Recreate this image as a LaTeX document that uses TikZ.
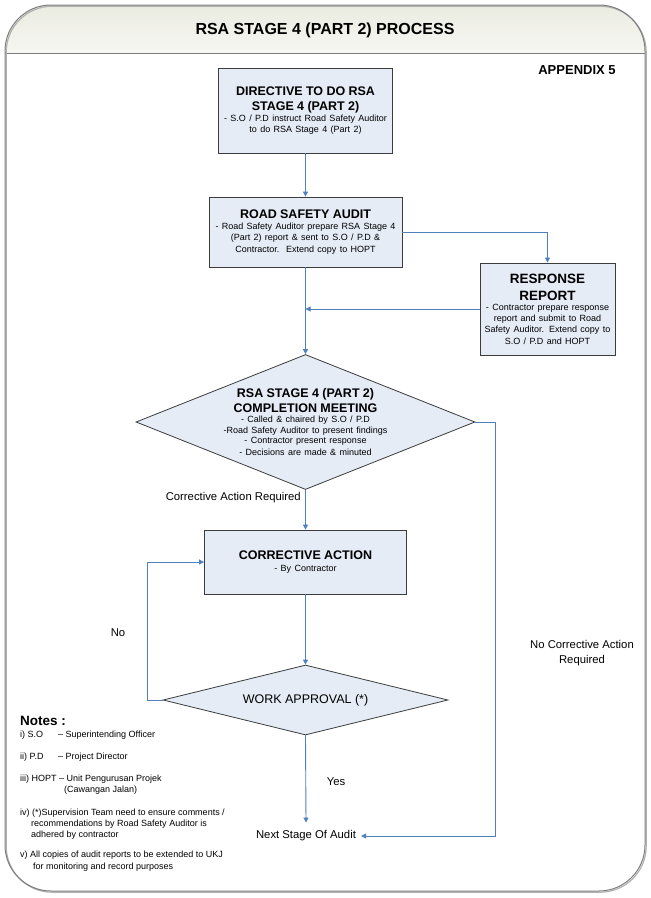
\documentclass[tikz,border=0pt]{standalone}
\usepackage{fontspec}
\setmainfont{Liberation Sans}
\usetikzlibrary{shapes.geometric,arrows.meta}
\definecolor{boxfill}{RGB}{229,236,246}
\definecolor{boxline}{RGB}{60,60,60}
\definecolor{arr}{RGB}{79,129,189}
\definecolor{framec}{RGB}{125,125,125}
\definecolor{bandtop}{RGB}{234,235,224}
\newcommand\myfs[2]{\fontsize{#1}{#2}\selectfont}
\newcommand\ttlf{\myfs{12.5}{15}\bfseries}
\newcommand\subf{\myfs{9}{10.6}\mdseries}
\begin{document}
\begin{tikzpicture}[x=1pt,y=-1pt,
  box/.style={draw=boxline, fill=boxfill, line width=0.8pt, align=center, inner sep=2pt},
  dia/.style={draw=boxline, fill=boxfill, line width=0.8pt, diamond, inner sep=0pt},
  conn/.style={draw=arr, line width=0.9pt},
  arrow/.style={conn, -{Triangle[length=5pt,width=5pt]}},
  lbl/.style={font=\myfs{11.3}{14.5}, align=center, inner sep=0pt},
  note/.style={font=\myfs{9}{11}, anchor=base west, inner sep=0pt}
]
\useasboundingbox (0,0) rectangle (651,898);
% frame
\fill[white] (0,0) rectangle (651,898);
\begin{scope}
  \clip[rounded corners=46pt] (5,5) rectangle (645,891);
  \shade[top color=bandtop, bottom color=white!60!bandtop] (5,5) rectangle (645,53);
\end{scope}
\draw[framec, line width=1pt] (5,53) -- (645,53);
\draw[framec!60, line width=1.2pt, rounded corners=46pt] (6.2,6.2) rectangle (646.2,892.2);
\draw[framec, line width=1pt, rounded corners=46pt] (5,5) rectangle (645,891);

\node[font=\myfs{16}{19}\bfseries, inner sep=0pt] (title) at (325,30) {RSA STAGE 4 (PART 2) PROCESS};
\node[font=\myfs{13}{15}\bfseries, inner sep=0pt] (app) at (577,70) {APPENDIX 5};

% boxes
\node[box, text width=170pt, minimum height=85pt] (b1) at (305.5,110.5)
  {\ttlf DIRECTIVE TO DO RSA\\STAGE 4 (PART 2)\par\subf - S.O / P.D instruct Road Safety Auditor\\to do RSA Stage 4 (Part 2)\par\vspace*{6pt}};
\node[box, text width=189pt, minimum height=70pt] (b2) at (305.5,232)
  {\ttlf ROAD SAFETY AUDIT\par\subf - Road Safety Auditor prepare RSA Stage 4\\(Part 2) report \& sent to S.O / P.D \&\\Contractor.\ \ Extend copy to HOPT};
\node[box, text width=131pt, minimum height=92pt] (b3) at (547.5,309)
  {\myfs{13.5}{17}\bfseries RESPONSE\\REPORT\par\subf - Contractor prepare response\\report and submit to Road\\Safety Auditor. Extend copy to\\S.O / P.D and HOPT};

\node[dia, minimum width=339pt, minimum height=135pt] (d1) at (305.5,422) {};
\node[align=center, text width=200pt, inner sep=0pt] (d1t) at (d1.center)
  {\ttlf RSA STAGE 4 (PART 2)\\COMPLETION MEETING\par\subf - Called \& chaired by S.O / P.D\\-Road Safety Auditor to present findings\\- Contractor present response\\- Decisions are made \& minuted};

\node[box, text width=198pt, minimum height=64pt] (b4) at (305.5,562)
  {\ttlf CORRECTIVE ACTION\par\subf - By Contractor};

\node[dia, minimum width=285pt, minimum height=70pt] (d2) at (305.5,700) {};
\node[font=\myfs{12.5}{15}, inner sep=0pt] (d2t) at (d2.center) {WORK APPROVAL (*)};

\node[lbl, inner xsep=5pt] (next) at (306,836) {Next Stage Of Audit};

% labels
\node[lbl, anchor=east] (lca) at (301,498) {Corrective Action Required};
\node[lbl] (lno) at (118,633) {No};
\node[lbl] (lnca) at (582,653) {No Corrective Action\\Required};
\node[lbl] (lyes) at (336,782) {Yes};

% connectors
\draw[arrow] (b1.south) -- (b2.north);
\draw[arrow] (b2.east) -| (b3.north);
\coordinate (j1) at (b2.south |- b3.west);
\draw[arrow] (b3.west) -- (j1);
\draw[arrow] (b2.south) -- (d1.north);
\draw[arrow] (d1.east) -- ++(20,0) |- (next.east);
\draw[arrow] (d1.south) -- (b4.north);
\draw[arrow] (b4.south) -- (d2.north);
\draw[arrow] (d2.west) -- ++(-15,0) |- (b4.west);
\draw[arrow] (d2.south) -- ([yshift=8pt]next.north);

% notes
\node[font=\myfs{13.5}{16}\bfseries, anchor=base west, inner sep=0pt] (notes) at (20,725) {Notes :};
\node[note] (n1) at (20,737) {\makebox[38pt][l]{i) S.O}– Superintending Officer};
\node[note] (n2) at (20,759) {\makebox[38pt][l]{ii) P.D}– Project Director};
\node[note] (n3a) at (20,781) {iii) HOPT – Unit Pengurusan Projek};
\node[note] (n3b) at (64,792) {(Cawangan Jalan)};
\node[note] (n4a) at (20,815) {iv) (*)Supervision Team need to ensure comments /};
\node[note] (n4b) at (31,826) {recommendations by Road Safety Auditor is};
\node[note] (n4c) at (31,837) {adhered by contractor};
\node[note] (n5a) at (20,857) {v) All copies of audit reports to be extended to UKJ};
\node[note] (n5b) at (33,869) {for monitoring and record purposes};
\end{tikzpicture}
\end{document}
